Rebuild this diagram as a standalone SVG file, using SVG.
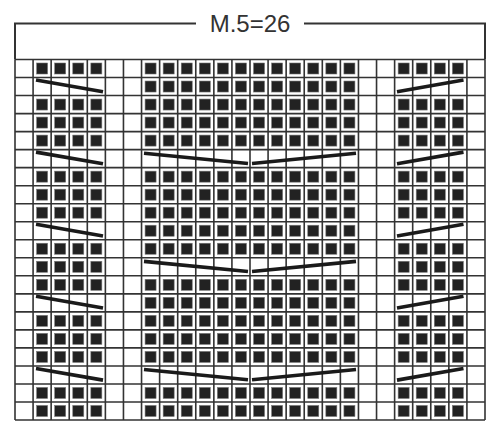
<svg xmlns="http://www.w3.org/2000/svg" width="500" height="425" viewBox="0 0 500 425">
<style>
.bg{fill:#fff}
.grid{stroke:#333;stroke-width:1.6;fill:none}
.frame{stroke:#333;stroke-width:2;fill:none}
.sq{fill:#222;stroke:#777;stroke-width:0.6}
.dec{stroke:#1a1a1a;stroke-width:3.6;stroke-linecap:butt}
.title{font-family:"Liberation Sans",Arial,sans-serif;font-size:24px;fill:#333}
</style>
<defs>
<rect id="sq" width="11" height="11" class="sq"/>
<g id="sL">
<use href="#sq" x="36.62"/><use href="#sq" x="54.69"/><use href="#sq" x="72.77"/><use href="#sq" x="90.85"/>
</g>
<g id="sR">
<use href="#sq" x="398.16"/><use href="#sq" x="416.23"/><use href="#sq" x="434.31"/><use href="#sq" x="452.39"/>
</g>
<g id="sM">
<use href="#sq" x="145.08"/><use href="#sq" x="163.16"/><use href="#sq" x="181.23"/><use href="#sq" x="199.31"/>
<use href="#sq" x="217.39"/><use href="#sq" x="235.46"/><use href="#sq" x="253.54"/><use href="#sq" x="271.62"/>
<use href="#sq" x="289.69"/><use href="#sq" x="307.77"/><use href="#sq" x="325.85"/><use href="#sq" x="343.92"/>
</g>
<g id="lineL"><line class="dec" x1="36" y1="2.5" x2="103" y2="14.2"/></g>
<g id="lineR"><line class="dec" x1="397" y1="14.2" x2="463.5" y2="2.5"/></g>
<g id="lineM"><line class="dec" x1="144" y1="3.6" x2="248" y2="13.8"/><line class="dec" x1="252" y1="13.8" x2="356" y2="3.6"/></g>
</defs>
<rect class="bg" width="500" height="425"/>
<g id="header">
<polyline class="frame" points="196,23.5 15,23.5 15,59.5"/>
<polyline class="frame" points="304,23.5 485,23.5 485,59.5"/>
<text class="title" x="250" y="32" text-anchor="middle">M.5=26</text>
</g>
<g id="grid">
<path class="grid" d="M15,59.5H485M15,77.53H485M15,95.55H485M15,113.58H485M15,131.6H485M15,149.63H485M15,167.65H485M15,185.68H485M15,203.7H485M15,221.73H485M15,239.75H485M15,257.78H485M15,275.8H485M15,293.83H485M15,311.85H485M15,329.88H485M15,347.9H485M15,365.93H485M15,383.95H485M15,401.98H485M15,420H485"/>
<path class="grid" d="M15,59.5V420M33.08,59.5V420M51.15,59.5V420M69.23,59.5V420M87.31,59.5V420M105.38,59.5V420M123.46,59.5V420M141.54,59.5V420M159.62,59.5V420M177.69,59.5V420M195.77,59.5V420M213.85,59.5V420M231.92,59.5V420M250,59.5V420M268.08,59.5V420M286.15,59.5V420M304.23,59.5V420M322.31,59.5V420M340.38,59.5V420M358.46,59.5V420M376.54,59.5V420M394.62,59.5V420M412.69,59.5V420M430.77,59.5V420M448.85,59.5V420M466.92,59.5V420M485,59.5V420"/>
</g>
<g id="squares">
<use href="#sL" y="63"/><use href="#sM" y="63"/><use href="#sR" y="63"/>
<use href="#sM" y="81.03"/>
<use href="#sL" y="99.05"/><use href="#sM" y="99.05"/><use href="#sR" y="99.05"/>
<use href="#sL" y="117.08"/><use href="#sM" y="117.08"/><use href="#sR" y="117.08"/>
<use href="#sL" y="135.1"/><use href="#sM" y="135.1"/><use href="#sR" y="135.1"/>
<use href="#sL" y="171.15"/><use href="#sM" y="171.15"/><use href="#sR" y="171.15"/>
<use href="#sL" y="189.18"/><use href="#sM" y="189.18"/><use href="#sR" y="189.18"/>
<use href="#sL" y="207.2"/><use href="#sM" y="207.2"/><use href="#sR" y="207.2"/>
<use href="#sM" y="225.23"/>
<use href="#sL" y="243.25"/><use href="#sM" y="243.25"/><use href="#sR" y="243.25"/>
<use href="#sL" y="261.28"/><use href="#sR" y="261.28"/>
<use href="#sL" y="279.3"/><use href="#sM" y="279.3"/><use href="#sR" y="279.3"/>
<use href="#sM" y="297.33"/>
<use href="#sL" y="315.35"/><use href="#sM" y="315.35"/><use href="#sR" y="315.35"/>
<use href="#sL" y="333.38"/><use href="#sM" y="333.38"/><use href="#sR" y="333.38"/>
<use href="#sL" y="351.4"/><use href="#sM" y="351.4"/><use href="#sR" y="351.4"/>
<use href="#sL" y="387.45"/><use href="#sM" y="387.45"/><use href="#sR" y="387.45"/>
<use href="#sL" y="405.48"/><use href="#sM" y="405.48"/><use href="#sR" y="405.48"/>
</g>
<g id="decreases">
<use href="#lineL" y="77.53"/><use href="#lineR" y="77.53"/>
<use href="#lineL" y="149.63"/><use href="#lineM" y="149.63"/><use href="#lineR" y="149.63"/>
<use href="#lineL" y="221.73"/><use href="#lineR" y="221.73"/>
<use href="#lineM" y="257.78"/>
<use href="#lineL" y="293.83"/><use href="#lineR" y="293.83"/>
<use href="#lineL" y="365.93"/><use href="#lineM" y="365.93"/><use href="#lineR" y="365.93"/>
</g>
</svg>
